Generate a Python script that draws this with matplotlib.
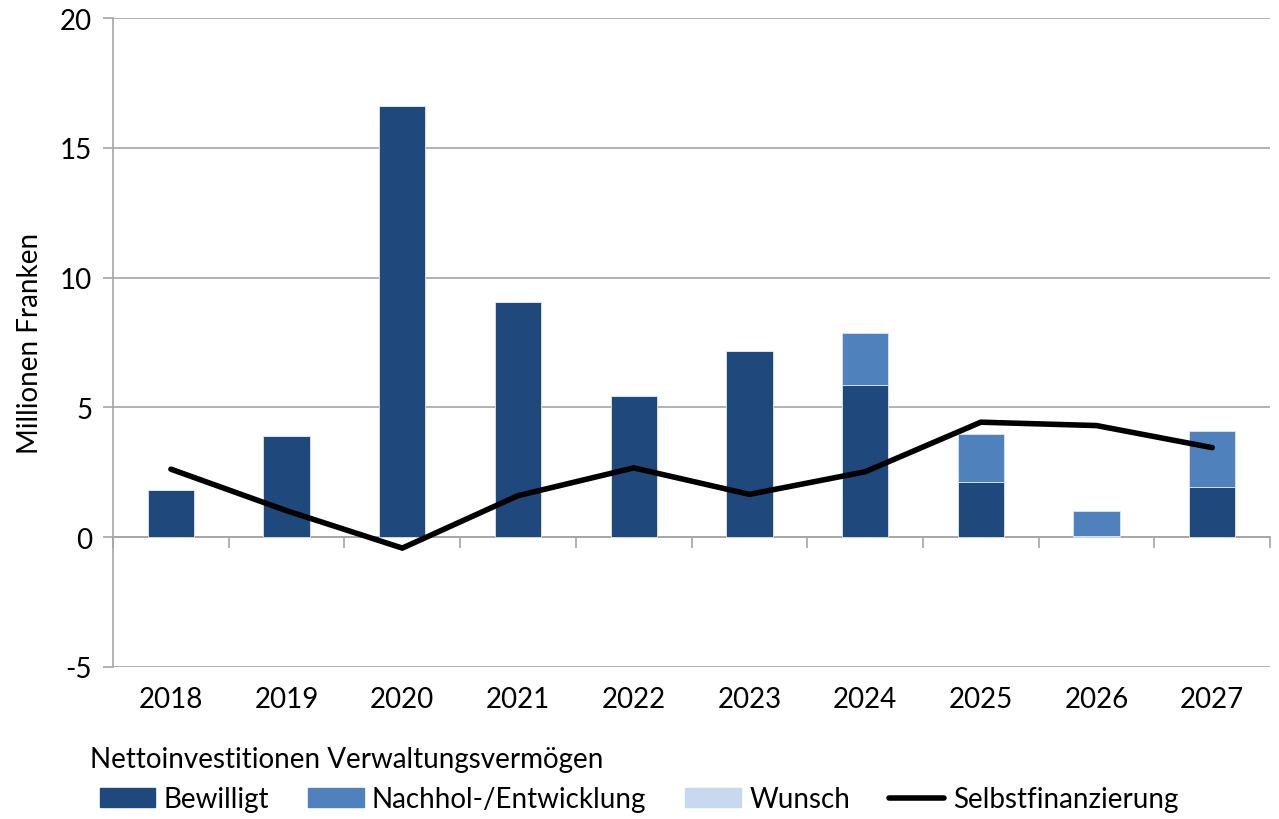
import numpy as np
import matplotlib.pyplot as plt
from matplotlib.patches import Patch
from matplotlib.lines import Line2D

plt.rcParams['font.family'] = ['Lato', 'DejaVu Sans']
plt.rcParams['axes.unicode_minus'] = False

years = ['2018', '2019', '2020', '2021', '2022', '2023', '2024', '2025', '2026', '2027']
bewilligt = [1.83, 3.91, 16.62, 9.07, 5.45, 7.18, 5.87, 2.14, 0.04, 1.95]
nachhol = [0, 0, 0, 0, 0, 0, 2.01, 1.85, 0.98, 2.15]
wunsch = [0, 0, 0, 0, 0, 0, 0, 0, 0, 0]
selbstfin = [2.62, 1.02, -0.42, 1.6, 2.67, 1.65, 2.52, 4.43, 4.3, 3.45]

c_dark = '#1F497D'
c_mid = '#4F81BD'
c_light = '#C6D9F1'
grid_c = '#A6A6A6'
fs = 20

fig = plt.figure(figsize=(12.79, 8.2), dpi=100)
ax = fig.add_axes([0.0884, 0.1854, 0.9046, 0.7914])

x = np.arange(len(years))
w = 0.4
ax.bar(x, bewilligt, w, color=c_dark, edgecolor='#DCE6F2', linewidth=0.6, zorder=2)
ax.bar(x, nachhol, w, bottom=bewilligt, color=c_mid, edgecolor='#DCE6F2', linewidth=0.6, zorder=2)
ax.bar(x, wunsch, w, bottom=np.add(bewilligt, nachhol), color=c_light, linewidth=0, zorder=2)
ax.plot(x, selbstfin, color='black', lw=4, solid_capstyle='round', solid_joinstyle='miter', zorder=3)

ax.set_xlim(-0.5, len(years) - 0.5)
ax.set_ylim(-5, 20)
ax.set_yticks([-5, 0, 5, 10, 15, 20])
ax.yaxis.grid(True, color=grid_c, lw=1.2, zorder=0)
ax.set_axisbelow(True)

for s in ['top', 'right', 'bottom']:
    ax.spines[s].set_visible(False)
ax.spines['left'].set_color(grid_c)
ax.spines['left'].set_linewidth(1.2)

ax.set_xticks(x)
ax.set_xticklabels(years, fontsize=fs)
ax.tick_params(axis='x', length=0, pad=14)
ax.tick_params(axis='y', length=7, color=grid_c, width=1.2, labelsize=fs, pad=8)
ax.set_ylabel('Millionen Franken', fontsize=fs, labelpad=12)

# category axis line at zero with tick marks between categories
sec = ax.secondary_xaxis(5 / 25)
sec.set_xticks(np.arange(-0.5, len(years), 1))
sec.set_xticklabels([])
sec.tick_params(axis='x', direction='out', length=8, color=grid_c, width=1.2)
sec.spines['bottom'].set_color(grid_c)
sec.spines['bottom'].set_linewidth(1.2)

fig.text(0.07, 0.073, 'Nettoinvestitionen Verwaltungsvermögen', fontsize=fs, va='center')
handles = [Patch(color=c_dark), Patch(color=c_mid), Patch(color=c_light),
           Line2D([0], [0], color='black', lw=4, solid_capstyle='round')]
labels = ['Bewilligt', 'Nachhol-/Entwicklung', 'Wunsch', 'Selbstfinanzierung']
fig.legend(handles, labels, loc='center left', bbox_to_anchor=(0.078, 0.024), ncol=4,
           frameon=False, fontsize=fs, handlelength=2.0, handleheight=0.65,
           handletextpad=0.3, columnspacing=1.4, borderaxespad=0, borderpad=0)

fig.savefig('out.png', dpi=100)
